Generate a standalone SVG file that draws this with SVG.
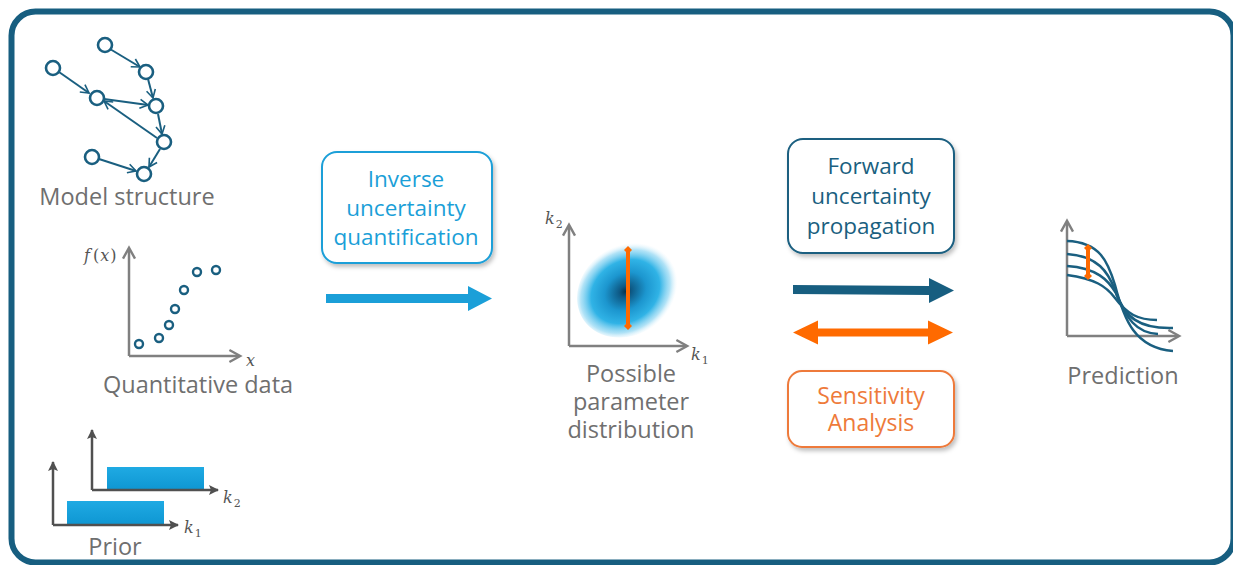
<svg xmlns="http://www.w3.org/2000/svg" width="1233" height="565" viewBox="0 0 1233 565">
<style>
.lbl{font-family:"Open Sans","Liberation Sans",sans-serif;font-size:23.5px;fill:#6f6f6f;text-anchor:middle}
.blue{font-family:"Open Sans","Liberation Sans",sans-serif;font-size:22.5px;fill:#1b9fd8;text-anchor:middle}
.teal{font-family:"Open Sans","Liberation Sans",sans-serif;font-size:22.5px;fill:#1a5f80;text-anchor:middle}
.orng{font-family:"Open Sans","Liberation Sans",sans-serif;font-size:23px;fill:#ee7a3a;text-anchor:middle}
.math{font-family:"DejaVu Serif","Liberation Serif",serif;font-style:italic;fill:#555;font-size:16px}
.up{font-style:normal}
.sub{font-family:"DejaVu Serif","Liberation Serif",serif;font-style:normal;fill:#555;font-size:11px}
.edge{stroke:#1a5f80;stroke-width:2;fill:none;marker-end:url(#chev)}
.node{fill:#fff;stroke:#1a5f80;stroke-width:2.6}
.pt{fill:#fff;stroke:#1a5f80;stroke-width:2.4}
.ax{stroke:#808080;stroke-width:2.5;fill:none;marker-end:url(#axh)}
.ax2{stroke:#505050;stroke-width:2.5;fill:none;marker-end:url(#axh2)}
.curve{stroke:#1a5f80;stroke-width:2.5;fill:none}
.err{stroke:#ff6a00;stroke-width:4;fill:none;marker-start:url(#dia);marker-end:url(#dia)}
</style>
<defs>
<marker id="chev" viewBox="0 0 10 10" refX="9" refY="5" markerWidth="9" markerHeight="9" markerUnits="userSpaceOnUse" orient="auto" overflow="visible">
<path d="M0,0 L9,5 L0,10" fill="none" stroke="#1a5f80" stroke-width="1.8"/>
</marker>
<marker id="axh" viewBox="0 0 10 10" refX="8" refY="5" markerWidth="12" markerHeight="12" markerUnits="userSpaceOnUse" orient="auto" overflow="visible">
<path d="M0,0 L9,5 L0,10" fill="none" stroke="#808080" stroke-width="2"/>
</marker>
<marker id="axh2" viewBox="0 0 10 10" refX="9" refY="5" markerWidth="10" markerHeight="10" markerUnits="userSpaceOnUse" orient="auto" overflow="visible">
<path d="M0,0 L10,5 L0,10 L2,5 Z" fill="#505050"/>
</marker>
<marker id="dia" viewBox="0 0 10 10" refX="5" refY="5" markerWidth="8" markerHeight="8" markerUnits="userSpaceOnUse" orient="auto" overflow="visible">
<path d="M5,0 L10,5 L5,10 L0,5 Z" fill="#ff6a00"/>
</marker>
<radialGradient id="blob" cx="0.46" cy="0.5" r="0.5">
<stop offset="0" stop-color="#083350"/>
<stop offset="0.12" stop-color="#0e5a86"/>
<stop offset="0.4" stop-color="#1c96cf"/>
<stop offset="0.66" stop-color="#30b3e6"/>
<stop offset="0.86" stop-color="#86d3f2" stop-opacity="0.65"/>
<stop offset="1" stop-color="#d6f0fb" stop-opacity="0"/>
</radialGradient>
<linearGradient id="bar" x1="0" y1="0" x2="0" y2="1">
<stop offset="0" stop-color="#1faae3"/>
<stop offset="1" stop-color="#0f97d3"/>
</linearGradient>
<filter id="sh" x="-10%" y="-10%" width="125%" height="130%">
<feDropShadow dx="2" dy="3" stdDeviation="2" flood-color="#000" flood-opacity="0.25"/>
</filter>
</defs>

<rect x="11.5" y="11.5" width="1222" height="551" rx="24" fill="#fff" stroke="#175e80" stroke-width="6"/>

<g id="model-structure">
<g id="connectors">
<line class="edge" x1="110" y1="49" x2="140" y2="67"/>
<line class="edge" x1="59" y1="72" x2="89" y2="93"/>
<line class="edge" x1="148" y1="79" x2="153" y2="98"/>
<line class="edge" x1="104" y1="99" x2="148" y2="105"/>
<line class="edge" x1="157" y1="138" x2="104" y2="101"/>
<line class="edge" x1="158" y1="114" x2="162" y2="134"/>
<line class="edge" x1="160" y1="149" x2="149" y2="167"/>
<line class="edge" x1="99" y1="159" x2="136" y2="171"/>
</g>
<circle class="node" cx="105" cy="45" r="7"/>
<circle class="node" cx="53" cy="68" r="7"/>
<circle class="node" cx="146" cy="72" r="7"/>
<circle class="node" cx="97" cy="98" r="7"/>
<circle class="node" cx="156" cy="106" r="7"/>
<circle class="node" cx="164" cy="142" r="7"/>
<circle class="node" cx="92" cy="157" r="7"/>
<circle class="node" cx="144" cy="174" r="7"/>
<text class="lbl" x="127" y="205">Model structure</text>
</g>

<g id="quantitative-data">
<path class="ax" d="M129,356 V249"/>
<path class="ax" d="M129,356 H239"/>
<text class="math" x="84" y="261">f<tspan class="up" dx="3">(</tspan><tspan dx="1">x</tspan><tspan class="up" dx="1">)</tspan></text>
<text class="math" x="246" y="366">x</text>
<circle class="pt" cx="139" cy="344" r="4"/>
<circle class="pt" cx="159" cy="338" r="4"/>
<circle class="pt" cx="169" cy="325" r="4"/>
<circle class="pt" cx="175" cy="309" r="4"/>
<circle class="pt" cx="184" cy="290" r="4"/>
<circle class="pt" cx="197" cy="272" r="4"/>
<circle class="pt" cx="216" cy="270" r="4"/>
<text class="lbl" x="198" y="393">Quantitative data</text>
</g>

<g id="prior">
<rect x="107" y="467" width="97" height="22" fill="url(#bar)"/>
<path class="ax2" d="M92,490 V430"/>
<path class="ax2" d="M92,490 H218"/>
<rect x="67" y="501" width="97" height="23" fill="url(#bar)"/>
<path class="ax2" d="M53,525 V462"/>
<path class="ax2" d="M53,525 H178"/>
<text class="math" x="223" y="503">k<tspan class="sub" dx="1" dy="4">2</tspan></text>
<text class="math" x="184" y="533">k<tspan class="sub" dx="1" dy="4">1</tspan></text>
<text class="lbl" x="115" y="555">Prior</text>
</g>

<g id="inverse-uq">
<rect x="322" y="152" width="170" height="111" rx="15" fill="#fff" stroke="#1b9fd8" stroke-width="2" filter="url(#sh)"/>
<text class="blue" x="406" y="187">Inverse<tspan x="406" dy="29">uncertainty</tspan><tspan x="406" dy="29">quantification</tspan></text>
</g>

<g id="param-dist">
<ellipse cx="629" cy="289" rx="55" ry="45" transform="rotate(-35 629 289)" fill="url(#blob)"/>
<path class="ax" d="M569,346 V226"/>
<path class="ax" d="M569,346 H686"/>
<path class="err" d="M628,250 V326"/>
<text class="math" x="545" y="224">k<tspan class="sub" dx="1" dy="4">2</tspan></text>
<text class="math" x="691" y="360">k<tspan class="sub" dx="1" dy="4">1</tspan></text>
<text class="lbl" x="631" y="382">Possible<tspan x="631" dy="28">parameter</tspan><tspan x="631" dy="28">distribution</tspan></text>
</g>

<g id="forward-uq">
<rect x="788" y="139" width="166" height="114" rx="15" fill="#fff" stroke="#1a5f80" stroke-width="2" filter="url(#sh)"/>
<text class="teal" x="871" y="174">Forward<tspan x="871" dy="30">uncertainty</tspan><tspan x="871" dy="30">propagation</tspan></text>
</g>

<g id="sensitivity">
<rect x="788" y="371" width="166" height="76" rx="14" fill="#fff" stroke="#ee7a3a" stroke-width="2" filter="url(#sh)"/>
<text class="orng" x="871" y="404">Sensitivity<tspan x="871" dy="27">Analysis</tspan></text>
</g>

<g id="prediction">
<path class="ax" d="M1067,336 V222"/>
<path class="ax" d="M1067,336 H1178"/>
<path class="curve" d="M1067,241 C1100,242 1108,262 1115,285 C1124,320 1135,348 1173,351"/>
<path class="curve" d="M1067,254 C1098,256 1108,272 1115,290 C1124,318 1140,329 1173,328"/>
<path class="curve" d="M1067,266 C1097,268 1108,280 1116,293 C1126,318 1136,333 1158,334"/>
<path class="curve" d="M1067,275 C1095,279 1106,286 1115,298 C1127,314 1138,320 1157,320"/>
<path class="err" d="M1088,248 V276"/>
<text class="lbl" x="1123" y="384">Prediction</text>
</g>

<g id="arrows">
<polygon points="326,294 468,294 468,286 492,298.5 468,311 468,303 326,303" fill="#1b9fd8"/>
<polygon points="793,285 929,286 929,278 954,290.5 929,303 929,295 793,294" fill="#175e80"/>
<polygon points="793,332.5 818,320.5 818,328.5 928,328.5 928,320.5 953,332.5 928,344.5 928,336.5 818,336.5 818,344.5" fill="#ff6a00"/>
</g>
</svg>
